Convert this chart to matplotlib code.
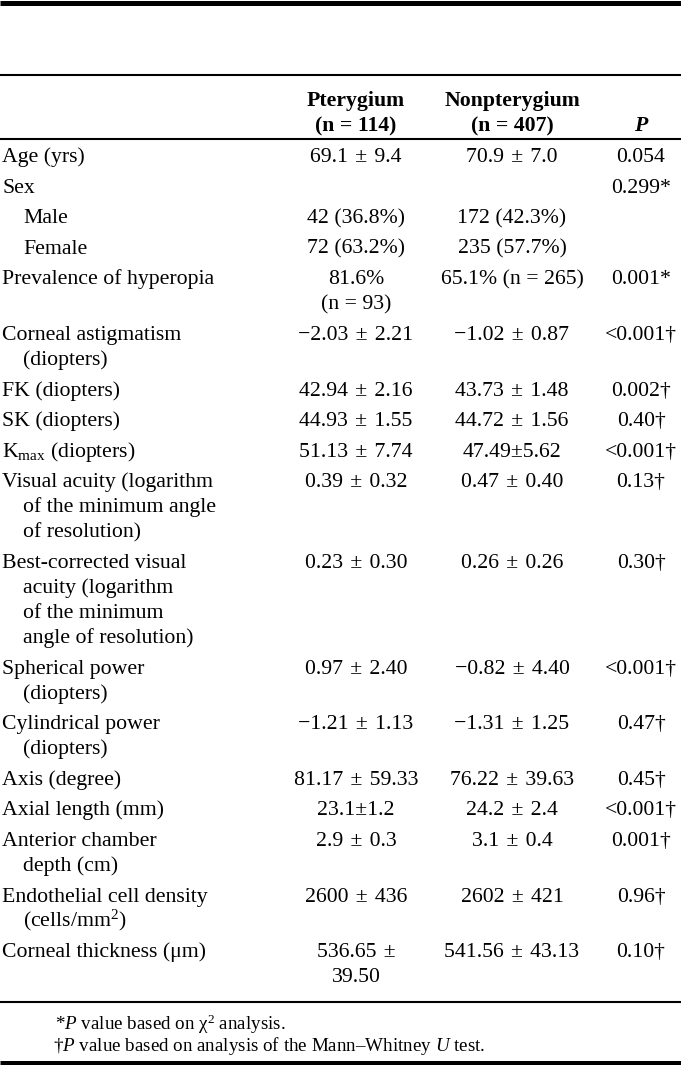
import matplotlib
matplotlib.use("Agg")
import matplotlib.pyplot as plt

plt.rcParams['font.family'] = ['Liberation Serif', 'DejaVu Serif']
plt.rcParams['mathtext.fontset'] = 'custom'
plt.rcParams['mathtext.rm'] = 'Liberation Serif'
plt.rcParams['mathtext.it'] = 'Liberation Serif:italic'
plt.rcParams['mathtext.bf'] = 'Liberation Serif:bold'

PM = "\u2004±\u2004"   # plus-minus set with slightly wider spaces

# table content, one entry per row (cells may wrap onto several lines)
labels = [["Age (yrs)"], ["Sex"], ["Male"], ["Female"],
          ["Prevalence of hyperopia"],
          ["Corneal astigmatism", "(diopters)"],
          ["FK (diopters)"], ["SK (diopters)"],
          ["K$_{\\mathrm{max}}$ (diopters)"],
          ["Visual acuity (logarithm", "of the minimum angle",
           "of resolution)"],
          ["Best-corrected visual", "acuity (logarithm",
           "of the minimum", "angle of resolution)"],
          ["Spherical power", "(diopters)"],
          ["Cylindrical power", "(diopters)"],
          ["Axis (degree)"], ["Axial length (mm)"],
          ["Anterior chamber", "depth (cm)"],
          ["Endothelial cell density", "(cells/mm$^{2}$)"],
          ["Corneal thickness (μm)"]]
indented = [False, False, True, True] + [False] * 14

pterygium = [["69.1" + PM + "9.4"], [""], ["42 (36.8%)"], ["72 (63.2%)"],
             ["81.6%", "(n = 93)"], ["−2.03" + PM + "2.21"],
             ["42.94" + PM + "2.16"], ["44.93" + PM + "1.55"],
             ["51.13" + PM + "7.74"], ["0.39" + PM + "0.32"],
             ["0.23" + PM + "0.30"], ["0.97" + PM + "2.40"],
             ["−1.21" + PM + "1.13"], ["81.17" + PM + "59.33"],
             ["23.1±1.2"], ["2.9" + PM + "0.3"],
             ["2600" + PM + "436"], ["536.65\u2004±", "39.50"]]

nonpterygium = [["70.9" + PM + "7.0"], [""], ["172 (42.3%)"],
                ["235 (57.7%)"], ["65.1% (n = 265)"],
                ["−1.02" + PM + "0.87"], ["43.73" + PM + "1.48"],
                ["44.72" + PM + "1.56"], ["47.49±5.62"],
                ["0.47" + PM + "0.40"], ["0.26" + PM + "0.26"],
                ["−0.82" + PM + "4.40"], ["−1.31" + PM + "1.25"],
                ["76.22" + PM + "39.63"], ["24.2" + PM + "2.4"],
                ["3.1" + PM + "0.4"], ["2602" + PM + "421"],
                ["541.56" + PM + "43.13"]]

p_values = ["0.054", "0.299*", "", "", "0.001*", "<0.001†", "0.002†",
            "0.40†", "<0.001†", "0.13†", "0.30†", "<0.001†", "0.47†",
            "0.45†", "<0.001†", "0.001†", "0.96†", "0.10†"]

headers = [["Pterygium", "(n = 114)"], ["Nonpterygium", "(n = 407)"],
           ["", "P"]]

footnotes = ["*$\\mathit{P}$ value based on χ$^{2}$ analysis.",
             "†$\\mathit{P}$ value based on analysis of the "
             "Mann–Whitney $\\mathit{U}$ test."]

W, H = 681, 1065
fig = plt.figure(figsize=(W / 100, H / 100), dpi=100)
ax = fig.add_axes([0, 0, 1, 1])
ax.set_xlim(0, W)
ax.set_ylim(H, 0)
ax.axis('off')

fs = 15.7
fs_note = 13.7
col_x = [356, 512, 641]
row_gap = 30.6
line_gap = 25.0

# rules
ax.hlines(2.5, 0, W, color='k', lw=3.6)
ax.hlines(74.5, 0, W, color='k', lw=1.5)
ax.hlines(138.5, 0, W, color='k', lw=1.5)
ax.hlines(1002, 0, W, color='k', lw=1.5)
ax.hlines(1062.5, 0, W, color='k', lw=3.6)

# header
for j, (cx, hdr) in enumerate(zip(col_x, headers)):
    for k, txt in enumerate(hdr):
        if txt:
            ax.text(cx, 106 + k * line_gap, txt, ha='center', va='baseline',
                    fontsize=fs, fontweight='bold',
                    fontstyle='italic' if j == 2 else 'normal')

# body
y = 162
for i in range(len(labels)):
    for k, txt in enumerate(labels[i]):
        x = 2 + (21 if (indented[i] or k > 0) else 0)
        ax.text(x, y + k * line_gap, txt, ha='left', va='baseline', fontsize=fs)
    for cx, col in zip(col_x[:2], [pterygium, nonpterygium]):
        for k, txt in enumerate(col[i]):
            ax.text(cx, y + k * line_gap, txt, ha='center', va='baseline',
                    fontsize=fs)
    ax.text(col_x[2], y, p_values[i], ha='center', va='baseline', fontsize=fs)
    n_lines = max(len(labels[i]), len(pterygium[i]), len(nonpterygium[i]))
    y += (n_lines - 1) * line_gap + row_gap

# footnotes
note_x = [55, 53]
for k, txt in enumerate(footnotes):
    ax.text(note_x[k], 1030 + k * 21, txt, ha='left', va='baseline',
            fontsize=fs_note)

fig.savefig("out.png", dpi=100)
